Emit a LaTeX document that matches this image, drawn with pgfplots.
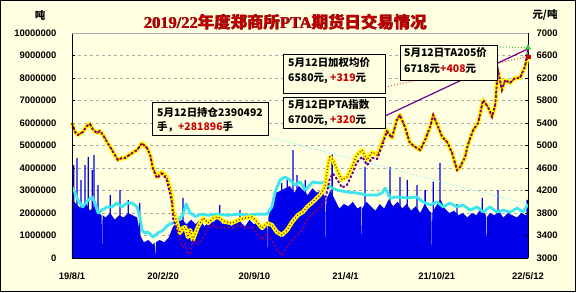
\documentclass[border=0pt]{standalone}
\usepackage{pgfplots}
\usepackage{pgfplotstable}
\pgfplotsset{compat=1.18}
\usepackage{fontspec}
\setmainfont{Liberation Sans}
\newfontfamily\cjk{Noto Sans CJK SC}
\newfontfamily\serifb{Liberation Serif}
\definecolor{bg}{RGB}{255,255,225}
\definecolor{volblue}{RGB}{0,0,235}
\definecolor{oicyan}{RGB}{60,230,240}
\definecolor{pyellow}{RGB}{255,255,0}
\definecolor{pred}{RGB}{200,0,0}
\definecolor{ppurple}{RGB}{112,0,140}
\definecolor{pgreen}{RGB}{60,200,60}
\definecolor{gridgray}{RGB}{170,170,170}
\definecolor{titlered}{RGB}{190,0,0}
\newcommand\tf{\bfseries\fontsize{9.5}{10}\selectfont}
\newcommand\bx{\cjk\bfseries\fontsize{10.5}{12}\selectfont}

% volume (million t), base envelope
\pgfplotstableread{
d v
0 2.6
10 2.4
20 2.2
30 2.5
40 2.1
50 2.3
60 2.0
66 1.9
67 0
68 1.9
75 1.8
85 2.0
95 1.7
105 1.9
115 1.8
125 2.0
135 1.9
145 1.8
152 1.0
160 0.7
170 0.8
180 0.6
184 0.7
185 0
187 0.7
195 0.8
205 0.7
215 0.9
225 1.4
235 1.6
245 1.7
255 1.5
265 1.7
275 1.5
285 1.7
295 1.4
305 1.7
315 1.6
325 1.8
335 1.5
345 1.7
355 1.4
365 1.7
375 1.6
385 1.4
395 1.7
405 1.5
415 1.6
425 1.4
435 1.5
436 0
437 1.8
445 2.4
455 2.9
465 3.0
475 3.1
485 3.2
495 2.9
505 3.2
515 3.0
525 2.8
535 3.1
545 2.9
555 3.0
564 2.7
565 0
566 2.6
575 3.0
585 2.6
595 2.2
605 2.4
615 2.3
625 2.5
635 2.2
644 2.3
645 0
646 2.2
655 2.5
665 2.3
675 2.1
685 2.4
695 2.2
705 2.6
715 2.3
725 2.5
735 2.2
745 2.4
755 2.1
765 2.3
775 2.0
785 2.4
795 2.1
800 2.0
801 0
802 2.0
810 2.3
820 2.6
830 2.2
840 2.0
850 2.1
860 1.9
870 2.0
880 1.8
890 2.0
900 1.9
910 2.2
921 1.9
922 0
923 1.8
930 2.0
940 1.9
950 2.1
960 1.8
970 2.0
980 1.9
990 1.8
1000 2.0
1010 1.9
1015 2.0
}\vol

% volume spikes
\pgfplotstableread{
d v
4 4.13
11 4.44
20 3.47
29 4.13
36 4.49
45 3.91
49 4.58
58 3.24
85 2.8
107 3.02
125 2.58
151 2.44
247 2.67
329 2.36
374 2.13
454 3.02
467 3.33
479 3.47
492 4.8
501 3.69
519 3.47
579 4.6
652 4.04
708 4.04
730 3.6
746 3.47
768 3.24
786 3.02
804 3.4
819 4.22
857 2.4
913 2.67
948 3.02
1013 2.58
}\spk

% open interest (million lots)
\pgfplotstableread{
d v
0 3.16
7 2.89
13 2.58
24 2.27
36 2.58
45 2.71
51 2.44
58 2.0
67 2.13
78 2.27
89 2.27
100 2.44
111 2.27
122 2.44
134 2.44
145 2.27
151 1.82
156 1.24
162 1.11
169 1.16
180 0.93
191 1.11
203 1.24
214 1.47
225 1.56
236 1.69
247 1.91
254 2.4
263 2.0
274 1.85
289 1.95
303 1.9
325 1.95
347 1.9
370 1.95
392 1.9
414 1.95
434 1.95
445 2.27
452 2.93
463 3.47
474 3.6
485 3.47
496 3.24
508 3.38
519 3.02
536 3.38
552 3.33
563 3.38
574 3.16
590 3.02
612 2.93
634 2.89
657 2.8
679 2.8
690 2.89
697 3.11
708 2.67
723 2.71
746 2.67
768 2.71
781 2.49
797 2.36
813 2.49
826 2.27
841 2.44
857 2.27
870 2.36
886 2.13
902 2.27
915 2.04
930 2.27
946 2.04
959 2.13
975 2.04
991 2.22
1004 2.04
1015 2.39
}\oi

% weighted average price
\pgfplotstableread{
d p
0 5400
7 5240
13 5187
24 5240
33 5347
40 5382
47 5276
56 5222
62 5258
69 5187
78 5062
89 4920
102 4742
111 4778
118 4778
134 4867
145 4920
156 5044
162 4991
167 4956
174 4831
180 4618
189 4440
200 4529
207 4476
211 4440
218 4262
223 4085
225 3853
234 3622
240 3444
247 3533
252 3551
258 3373
263 3498
269 3320
280 3551
292 3711
303 3622
314 3711
325 3729
341 3640
356 3622
370 3676
385 3711
401 3729
412 3640
423 3533
434 3622
445 3587
456 3462
467 3409
479 3498
490 3640
503 3765
514 3818
523 3907
536 3996
552 4120
563 4262
570 4654
574 4796
581 4742
590 4564
601 4387
612 4440
623 4618
634 4831
646 4920
657 4742
668 4884
679 4831
690 5044
701 5276
712 5133
723 5453
730 5542
741 5329
752 5044
764 4973
775 4920
786 5098
797 5329
804 5542
815 5329
824 5151
835 5062
846 4867
857 4564
864 4618
875 4796
881 5009
893 5276
904 5400
915 5809
926 5684
935 5507
942 5720
948 6342
957 5987
964 6165
975 6111
986 6200
997 6200
1008 6396
1015 6580
}\wavg

% TA main contract price
\pgfplotstableread{
d p
0 5400
7 5240
13 5187
24 5240
33 5347
40 5382
47 5276
56 5222
62 5258
69 5187
78 5062
89 4920
102 4742
111 4778
118 4778
134 4867
145 4920
156 5044
162 4991
167 4956
174 4831
180 4600
189 4420
200 4500
207 4440
211 4380
218 4150
223 3950
225 3700
234 3500
240 3300
247 3200
252 3260
258 3070
263 3090
269 3290
280 3240
292 3370
303 3550
314 3587
325 3530
341 3550
356 3530
370 3590
385 3530
401 3550
412 3440
423 3320
434 3440
445 3320
456 3140
467 3050
479 3200
490 3320
503 3410
514 3530
523 3670
536 3800
552 3890
563 4030
570 4260
574 4420
581 4500
590 4400
601 4250
612 4300
623 4480
634 4700
646 4800
657 4650
668 4780
679 4760
690 4990
701 5250
712 5133
723 5453
730 5542
741 5329
752 5044
764 4973
775 4920
786 5098
797 5329
804 5542
815 5329
824 5151
835 5062
846 4867
857 4564
864 4618
875 4796
881 5009
893 5276
904 5400
915 5809
926 5684
935 5507
942 5720
948 6342
957 5987
964 6165
975 6111
986 6200
997 6200
1008 6396
1015 6718
}\ta

% PTA index (late part)
\pgfplotstableread{
d p
690 5080
701 5300
712 5170
723 5480
730 5560
741 5360
752 5070
764 5000
775 4950
786 5130
797 5360
804 5570
815 5350
824 5180
835 5090
846 4900
857 4600
864 4650
875 4830
881 5040
893 5300
904 5430
915 5840
926 5710
935 5540
942 5750
948 6370
957 6020
964 6190
975 6140
986 6230
997 6230
1008 6430
1015 6700
}\idx

\begin{document}
\begin{tikzpicture}[x=1bp,y=1bp]
\fill[bg] (-72,-34) rectangle (504,258);
\useasboundingbox (-72,-34) rectangle (504,258);

\begin{axis}[at={(0,0)}, anchor=south west, scale only axis,
  width=456bp, height=225bp,
  xmin=0, xmax=1015, ymin=0, ymax=10,
  axis x line*=bottom, axis y line*=left,
  axis line style={black, line width=0.8bp, -},
  xtick={0,203,406,609,812,1015},
  xticklabels={19/8/1,20/2/20,20/9/10,21/4/1,21/10/21,22/5/12},
  ytick={0,1,2,3,4,5,6,7,8,9,10},
  yticklabels={0,1000000,2000000,3000000,4000000,5000000,6000000,7000000,8000000,9000000,10000000},
  tick align=inside, major tick length=3bp,
  tick style={black, line width=0.6bp},
  ymajorgrids, grid style={gridgray, dashed, line width=0.6bp},
  tick label style={font=\tf},
  yticklabel style={xshift=-12bp},
  xticklabel style={yshift=-11bp},
  clip=true]
\addplot[fill=volblue, draw=none] table[x=d,y=v] {\vol} \closedcycle;
\addplot[ybar, bar width=1.3bp, fill=volblue, draw=none] table[x=d,y=v] {\spk};
\addplot[oicyan, line width=2.8bp, line join=round] table[x=d,y=v] {\oi};
\addplot[oicyan!60, line width=1bp, dotted] coordinates {(436,5.38) (1015,2.39)};
\end{axis}

\begin{axis}[at={(0,0)}, anchor=south west, scale only axis,
  width=456bp, height=225bp,
  xmin=0, xmax=1015, ymin=3000, ymax=7000,
  axis y line*=right, axis x line*=bottom,
  axis line style={black, line width=0.8bp, -},
  xtick=\empty,
  ytick={3000,3400,3800,4200,4600,5000,5400,5800,6200,6600,7000},
  yticklabels={3000,3400,3800,4200,4600,5000,5400,5800,6200,6600,7000},
  tick align=inside, major tick length=3bp,
  tick style={black, line width=0.6bp},
  tick label style={font=\tf},
  yticklabel style={xshift=5bp},
  clip=false]
\addplot[pgreen, line width=1bp] table[x=d,y=p] {\idx};
\addplot[pyellow, line width=4.2bp, line join=round] table[x=d,y=p] {\wavg};
\addplot[ppurple, line width=1.9bp, dash pattern=on 2.5bp off 1.8bp] table[x=d,y=p] {\ta};
\addplot[pred, line width=1.3bp, dash pattern=on 1bp off 2.2bp] table[x=d,y=p] {\wavg};
\addplot[pred!70, line width=1bp, dotted] coordinates {(697,6040) (1015,6580)};
\addplot[ppurple, line width=1.2bp] coordinates {(697,5525) (1015,6718)};
\addplot[pgreen, line width=1bp, dotted] coordinates {(946,6752) (1015,6740)};
\addplot[only marks, mark=triangle*, mark size=3bp, pgreen] coordinates {(1015,6740)};
\addplot[only marks, mark=square*, mark size=1.8bp, pred] coordinates {(1015,6580)};
\end{axis}

\draw[black, line width=0.8bp] (0,0) -- (0,225);
\draw[gridgray, line width=0.8bp] (0,225) -- (456,225);

% annotation boxes
\draw[black, line width=0.7bp, fill=bg] (80,156) rectangle (196,123);
\node[anchor=west, inner sep=0, font=\bx] at (85,146) {5月12日持仓2390492};
\node[anchor=west, inner sep=0, font=\bx] at (85,131) {手，\textcolor{pred}{+281896}手};

\draw[black, line width=0.7bp, fill=bg] (211,204) rectangle (313,165);
\node[anchor=west, inner sep=0, font=\bx] at (216,195) {5月12日加权均价};
\node[anchor=west, inner sep=0, font=\bx] at (216,179) {6580元, \textcolor{pred}{+319}元};

\draw[black, line width=0.7bp, fill=bg] (211,161) rectangle (313,130);
\node[anchor=west, inner sep=0, font=\bx] at (216,153) {5月12日PTA指数};
\node[anchor=west, inner sep=0, font=\bx] at (216,137) {6700元, \textcolor{pred}{+320}元};

\draw[black, line width=0.7bp, fill=bg] (328,213) rectangle (425,178);
\node[anchor=west, inner sep=0, font=\bx] at (332,205) {5月12日TA205价};
\node[anchor=west, inner sep=0, font=\bx] at (332,189) {6718元\textcolor{pred}{+408}元};

% title and units
\node[font=\cjk\bfseries\fontsize{16.5}{18}\selectfont, text=titlered!50!black] at (213.7,235.3) {{\serifb\bfseries 2019/22}年度郑商所{\serifb\bfseries PTA}期货日交易情况};
\node[font=\cjk\bfseries\fontsize{16.5}{18}\selectfont, text=titlered] at (213,236) {{\serifb\bfseries 2019/22}年度郑商所{\serifb\bfseries PTA}期货日交易情况};
\node[font=\cjk\bfseries\fontsize{10.5}{12}\selectfont] at (-32,243) {吨};
\node[font=\cjk\bfseries\fontsize{10.5}{12}\selectfont] at (473,243) {元/吨};

\draw[black, line width=1bp] (-71.5,-33.5) rectangle (503.5,257.5);
\end{tikzpicture}
\end{document}
